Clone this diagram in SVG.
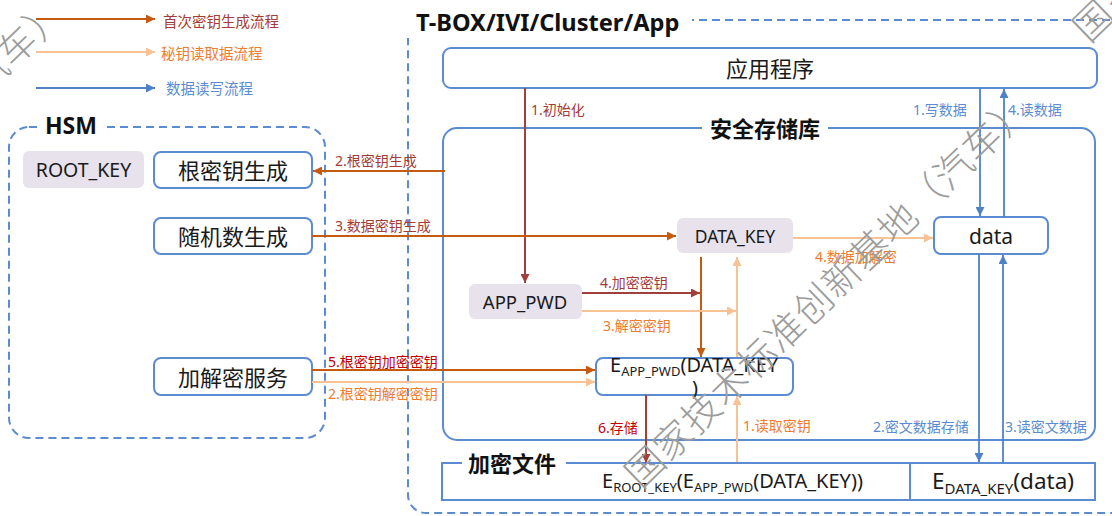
<svg xmlns="http://www.w3.org/2000/svg" width="1112" height="516" viewBox="0 0 1112 516">
<style>
text{font-family:'Noto Sans','Noto Sans CJK SC',sans-serif;}
.box{fill:#fff;stroke:#5B8BD0;stroke-width:2;}
.key{fill:#E7E2EC;stroke:none;}
.dash{fill:none;stroke:#5B8BD0;stroke-width:2;stroke-dasharray:8 5;}
.nt{font-size:22px;fill:#1a1a1a;text-anchor:middle;dominant-baseline:central;}
.kt{font-size:17.5px;fill:#1a1a1a;text-anchor:middle;dominant-baseline:central;}
.ttl{font-size:23px;font-weight:bold;fill:#111;}
.lb{font-size:14px;}
.c1{fill:#A33B36;}
.c2{fill:#ED7D31;}
.c3{fill:#5B8BD0;}
.cr{fill:#C00000;}
.l-dk{stroke:#C55A11;stroke-width:2;fill:none;}
.l-br{stroke:#A0403A;stroke-width:2;fill:none;}
.l-lt{stroke:#F9C294;stroke-width:2;fill:none;}
.l-bl{stroke:#4F81C7;stroke-width:1.8;fill:none;}
.wm{font-family:'Noto Sans CJK SC',sans-serif;font-size:38px;font-weight:300;fill:#9C9C9C;letter-spacing:1px;}
.et{font-size:20px;fill:#1a1a1a;}
</style>
<defs>
<marker id="m-dk" viewBox="0 0 10 10" refX="10" refY="5" markerWidth="10" markerHeight="9" markerUnits="userSpaceOnUse" orient="auto"><path d="M0,0 L10,5 L0,10 z" fill="#C55A11"/></marker>
<marker id="m-br" viewBox="0 0 10 10" refX="10" refY="5" markerWidth="10" markerHeight="9" markerUnits="userSpaceOnUse" orient="auto"><path d="M0,0 L10,5 L0,10 z" fill="#A0403A"/></marker>
<marker id="m-lt" viewBox="0 0 10 10" refX="10" refY="5" markerWidth="10" markerHeight="9" markerUnits="userSpaceOnUse" orient="auto"><path d="M0,0 L10,5 L0,10 z" fill="#F9C294"/></marker>
<marker id="m-bl" viewBox="0 0 10 10" refX="10" refY="5" markerWidth="10" markerHeight="9" markerUnits="userSpaceOnUse" orient="auto"><path d="M0,0 L10,5 L0,10 z" fill="#4F81C7"/></marker>
</defs>
<rect width="1112" height="516" fill="#fff"/>

<g id="legend">
<line x1="36" y1="19" x2="155" y2="19" class="l-dk" marker-end="url(#m-dk)"/>
<text x="163" y="27" class="c1" font-size="14.5">首次密钥生成流程</text>
<line x1="36" y1="52" x2="155" y2="52" class="l-lt" marker-end="url(#m-lt)"/>
<text x="161" y="59" class="c2" font-size="14.5">秘钥读取据流程</text>
<line x1="36" y1="88" x2="155" y2="88" class="l-bl" marker-end="url(#m-bl)"/>
<text x="166" y="94" class="c3" font-size="14.5">数据读写流程</text>
</g>

<g id="hsm">
<rect x="9" y="127" width="316" height="311" rx="20" class="dash"/>
<rect x="38" y="114" width="68" height="26" fill="#fff"/>
<text x="45" y="134" class="ttl">HSM</text>
</g>
<g id="root_key"><rect x="23" y="151" width="121" height="37" rx="6" class="key"/><text x="83.5" y="169.5" class="kt" style="font-size:19.5px">ROOT_KEY</text></g>
<g id="root_key_gen"><rect x="154" y="152" width="158" height="36" rx="7" class="box"/><text x="233" y="170" class="nt">根密钥生成</text></g>
<g id="rng"><rect x="154" y="218" width="158" height="36" rx="7" class="box"/><text x="233" y="236" class="nt">随机数生成</text></g>
<g id="crypto_service"><rect x="154" y="358" width="158" height="37" rx="7" class="box"/><text x="233" y="376.5" class="nt">加解密服务</text></g>

<g id="tbox">
<rect x="408" y="20" width="730" height="493" rx="18" class="dash"/>
<rect x="400" y="4" width="292" height="34" fill="#fff"/>
<text x="416" y="31" class="ttl" style="font-size:23.6px">T-BOX/IVI/Cluster/App</text>
</g>
<g id="app"><rect x="443" y="48" width="654" height="40" rx="8" class="box"/><text x="770" y="68" class="nt">应用程序</text></g>
<g id="secure_store">
<rect x="443" y="128" width="652" height="312" rx="14" class="box" fill="none"/>
<rect x="702" y="117" width="126" height="22" fill="#fff"/>
<text x="765" y="137" class="ttl" text-anchor="middle" style="font-size:22px">安全存储库</text>
</g>
<g id="enc_file">
<rect x="442" y="463" width="653" height="37" class="box"/>
<line x1="910" y1="463" x2="910" y2="500" stroke="#5B8BD0" stroke-width="2"/>
<rect x="462" y="452" width="104" height="20" fill="#fff"/>
<text x="468" y="472" class="ttl" style="font-size:22px">加密文件</text>
<text x="602" y="488" class="et">E<tspan font-size="13" dy="4">ROOT_KEY</tspan><tspan dy="-4">(E</tspan><tspan font-size="13" dy="4">APP_PWD</tspan><tspan dy="-4">(DATA_KEY))</tspan></text>
<text x="932" y="489" class="et" style="font-size:22.5px">E<tspan font-size="15" dy="5">DATA_KEY</tspan><tspan dy="-5">(data)</tspan></text>
</g>
<g id="app_pwd"><rect x="469" y="284" width="113" height="35" rx="6" class="key"/><text x="525" y="301.5" class="kt" style="font-size:18.5px">APP_PWD</text></g>
<g id="data_key"><rect x="677" y="218" width="116" height="35" rx="6" class="key"/><text x="735" y="235.5" class="kt">DATA_KEY</text></g>
<g id="e_app_pwd">
<rect x="596" y="358" width="197" height="37" rx="7" class="box"/>
<text x="610" y="372" class="et">E<tspan font-size="13" dy="4">APP_PWD</tspan><tspan dy="-4">(DATA_KEY</tspan></text>
<text x="692" y="395" class="et">)</text>
</g>
<g id="data"><rect x="934" y="217" width="114" height="37" rx="7" class="box"/><text x="991" y="235.5" class="nt" style="font-size:21px">data</text></g>

<g id="connectors">
<line x1="525" y1="88" x2="525" y2="283" class="l-br" marker-end="url(#m-br)"/>
<line x1="445" y1="171" x2="313" y2="171" class="l-dk" marker-end="url(#m-dk)"/>
<line x1="312" y1="236" x2="676" y2="236" class="l-dk" marker-end="url(#m-dk)"/>
<line x1="582" y1="293" x2="700" y2="293" class="l-br" marker-end="url(#m-br)"/>
<line x1="701" y1="257" x2="701" y2="357" class="l-dk" marker-end="url(#m-dk)"/>
<line x1="582" y1="311" x2="736" y2="311" class="l-lt" marker-end="url(#m-lt)"/>
<line x1="737" y1="357" x2="737" y2="257" class="l-lt" marker-end="url(#m-lt)"/>
<line x1="312" y1="370" x2="595" y2="370" class="l-dk" marker-end="url(#m-dk)"/>
<line x1="312" y1="382" x2="595" y2="382" class="l-lt" marker-end="url(#m-lt)"/>
<line x1="646" y1="395" x2="646" y2="463" class="l-br" marker-end="url(#m-br)"/>
<line x1="737" y1="462" x2="737" y2="396" class="l-lt" marker-end="url(#m-lt)"/>
<line x1="793" y1="238" x2="933" y2="238" class="l-lt" marker-end="url(#m-lt)"/>
<line x1="980" y1="88" x2="980" y2="216" class="l-bl" marker-end="url(#m-bl)"/>
<line x1="1004" y1="217" x2="1004" y2="89" class="l-bl" marker-end="url(#m-bl)"/>
<line x1="979" y1="254" x2="979" y2="462" class="l-bl" marker-end="url(#m-bl)"/>
<line x1="1003" y1="463" x2="1003" y2="255" class="l-bl" marker-end="url(#m-bl)"/>
</g>

<g id="labels">
<text x="531" y="115" class="lb c1">1.初始化</text>
<text x="335" y="166" class="lb c1">2.根密钥生成</text>
<text x="335" y="231" class="lb c1">3.数据密钥生成</text>
<text x="600" y="288" class="lb c1">4.加密密钥</text>
<text x="603" y="331" class="lb c2">3.解密密钥</text>
<text x="328" y="367" class="lb cr">5.根密钥加密密钥</text>
<text x="328" y="399" class="lb c2">2.根密钥解密密钥</text>
<text x="598" y="433" class="lb cr">6.存储</text>
<text x="743" y="431" class="lb c2">1.读取密钥</text>
<text x="873" y="432" class="lb c3">2.密文数据存储</text>
<text x="1005" y="432" class="lb c3">3.读密文数据</text>
<text x="913" y="115" class="lb c3">1.写数据</text>
<text x="1008" y="115" class="lb c3">4.读数据</text>
<text x="815" y="262" class="lb c2">4.数据加解密</text>
</g>

<g id="watermark">
<text class="wm" transform="translate(641,490) rotate(-44)">国家技术标准创新基地（汽车）</text>
<text class="wm" transform="translate(-324,394) rotate(-44)">国家技术标准创新基地（汽车）</text>
<text class="wm" transform="translate(1089,44) rotate(-44)">国家技术标准创新基地（汽车）</text>
</g>
</svg>
